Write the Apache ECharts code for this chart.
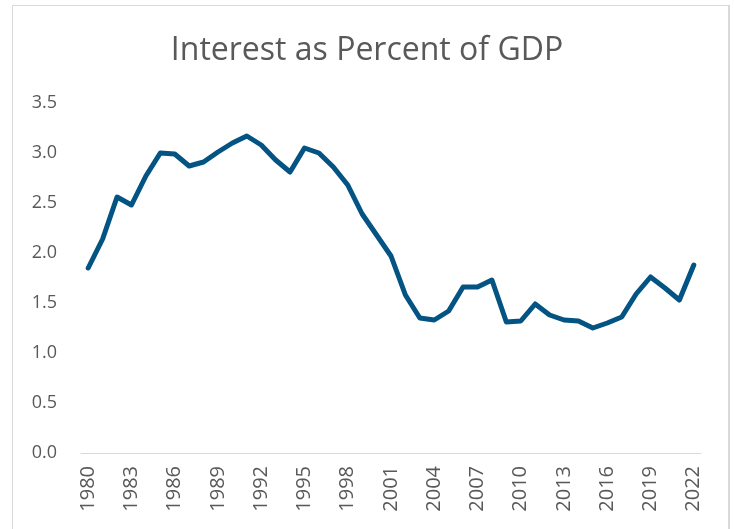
<!DOCTYPE html>
<html>
<head>
<meta charset="utf-8">
<script src="https://cdn.jsdelivr.net/npm/echarts@6/dist/echarts.min.js"></script>
<style>
  html, body { margin: 0; padding: 0; background: #fff; overflow: hidden; }
  #frame {
    position: absolute; left: 12px; top: 5px; width: 715px; height: 600px;
    border: 1px solid #d9d9d9; border-right: 2px solid #d9d9d9;
  }
  #main { position: absolute; left: 0; top: 0; width: 734px; height: 529px; }
</style>
</head>
<body>
<div id="frame"></div>
<div id="main"></div>
<script>
// years on the x axis
const years = [];
for (let y = 1980; y <= 2022; y++) years.push(String(y));

// net interest as % of GDP
const interestPct = [
  1.85, 2.14, 2.56, 2.48, 2.77, 3.00, 2.99, 2.87, 2.91, 3.01,
  3.10, 3.17, 3.08, 2.93, 2.81, 3.05, 3.00, 2.86, 2.68, 2.39,
  2.18, 1.97, 1.58, 1.35, 1.33, 1.42, 1.66, 1.66, 1.73, 1.31,
  1.32, 1.49, 1.38, 1.33, 1.32, 1.25, 1.30, 1.36, 1.59, 1.76,
  1.65, 1.53, 1.88
];

const chart = echarts.init(document.getElementById('main'));

chart.setOption({
  animation: false,
  title: {
    text: 'Interest as Percent of GDP',
    left: 'center',
    top: 30,
    textStyle: {
      fontFamily: 'Open Sans',
      fontSize: 32,
      fontWeight: 'normal',
      color: '#595959'
    }
  },
  grid: { left: 81, right: 33, top: 103, bottom: 76 },
  xAxis: {
    type: 'category',
    data: years,
    boundaryGap: true,
    axisLine: { lineStyle: { color: '#d9d9d9', width: 1 } },
    axisTick: { interval: 2, length: 5, lineStyle: { color: '#d9d9d9' } },
    axisLabel: {
      interval: 2,
      rotate: 90,
      margin: 13,
      fontFamily: 'Open Sans',
      fontSize: 20,
      color: '#595959'
    }
  },
  yAxis: {
    type: 'value',
    min: 0,
    max: 3.5,
    interval: 0.5,
    axisLine: { show: false },
    axisTick: { show: false },
    splitLine: { show: false },
    axisLabel: {
      margin: 24,
      fontFamily: 'Open Sans',
      fontSize: 18,
      color: '#595959',
      formatter: v => v.toFixed(1)
    }
  },
  series: [{
    type: 'line',
    data: interestPct,
    showSymbol: false,
    lineStyle: { color: '#035383', width: 5, cap: 'round', join: 'round' }
  }]
});
</script>
</body>
</html>
